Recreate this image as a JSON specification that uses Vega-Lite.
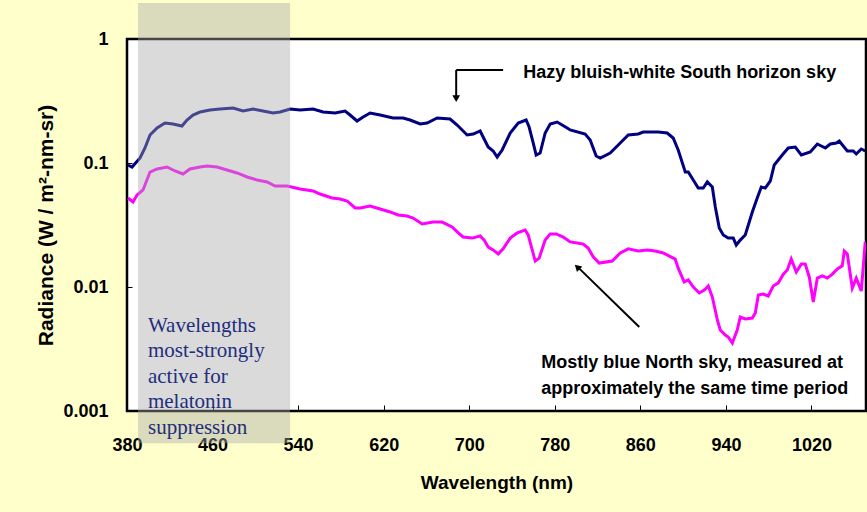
{
  "$schema": "https://vega.github.io/schema/vega-lite/v6.json",
  "width": 739,
  "height": 372,
  "autosize": {"type": "none"},
  "padding": {"left": 127, "top": 39, "right": 1, "bottom": 101},
  "background": "#FFFFCC",
  "config": {
    "view": {"fill": "white", "stroke": "black", "strokeWidth": 2.5},
    "axis": {
      "grid": false,
      "domain": false,
      "tickColor": "black",
      "tickWidth": 1,
      "labelFont": "Liberation Sans",
      "labelFontWeight": "bold",
      "labelFontSize": 18,
      "labelColor": "black",
      "titleFont": "Liberation Sans",
      "titleFontWeight": "bold",
      "titleFontSize": 19,
      "titleColor": "black",
      "labelOverlap": false,
      "labelFlush": false
    }
  },
  "datasets": {
    "spec": [
      {"wl": 380.9, "rad": 0.0964, "sky": "South"},
      {"wl": 384.7, "rad": 0.0928, "sky": "South"},
      {"wl": 392.2, "rad": 0.1097, "sky": "South"},
      {"wl": 396.8, "rad": 0.1321, "sky": "South"},
      {"wl": 401.5, "rad": 0.1682, "sky": "South"},
      {"wl": 408.1, "rad": 0.1915, "sky": "South"},
      {"wl": 415.5, "rad": 0.2102, "sky": "South"},
      {"wl": 423.0, "rad": 0.2063, "sky": "South"},
      {"wl": 431.4, "rad": 0.1988, "sky": "South"},
      {"wl": 436.1, "rad": 0.2222, "sky": "South"},
      {"wl": 441.7, "rad": 0.2438, "sky": "South"},
      {"wl": 448.3, "rad": 0.2577, "sky": "South"},
      {"wl": 457.6, "rad": 0.2675, "sky": "South"},
      {"wl": 467.0, "rad": 0.2725, "sky": "South"},
      {"wl": 479.2, "rad": 0.2776, "sky": "South"},
      {"wl": 488.5, "rad": 0.2626, "sky": "South"},
      {"wl": 497.9, "rad": 0.2725, "sky": "South"},
      {"wl": 507.2, "rad": 0.2626, "sky": "South"},
      {"wl": 516.6, "rad": 0.2530, "sky": "South"},
      {"wl": 523.1, "rad": 0.2577, "sky": "South"},
      {"wl": 532.5, "rad": 0.2725, "sky": "South"},
      {"wl": 541.9, "rad": 0.2675, "sky": "South"},
      {"wl": 554.0, "rad": 0.2725, "sky": "South"},
      {"wl": 563.3, "rad": 0.2577, "sky": "South"},
      {"wl": 574.6, "rad": 0.2530, "sky": "South"},
      {"wl": 583.9, "rad": 0.2626, "sky": "South"},
      {"wl": 588.6, "rad": 0.2438, "sky": "South"},
      {"wl": 595.1, "rad": 0.2181, "sky": "South"},
      {"wl": 600.8, "rad": 0.2349, "sky": "South"},
      {"wl": 607.3, "rad": 0.2530, "sky": "South"},
      {"wl": 616.7, "rad": 0.2438, "sky": "South"},
      {"wl": 628.8, "rad": 0.2306, "sky": "South"},
      {"wl": 638.2, "rad": 0.2306, "sky": "South"},
      {"wl": 644.7, "rad": 0.2222, "sky": "South"},
      {"wl": 654.1, "rad": 0.2063, "sky": "South"},
      {"wl": 660.6, "rad": 0.2102, "sky": "South"},
      {"wl": 670.0, "rad": 0.2306, "sky": "South"},
      {"wl": 682.1, "rad": 0.2264, "sky": "South"},
      {"wl": 688.7, "rad": 0.2025, "sky": "South"},
      {"wl": 698.0, "rad": 0.1682, "sky": "South"},
      {"wl": 703.7, "rad": 0.1713, "sky": "South"},
      {"wl": 710.2, "rad": 0.1812, "sky": "South"},
      {"wl": 713.0, "rad": 0.1621, "sky": "South"},
      {"wl": 717.7, "rad": 0.1346, "sky": "South"},
      {"wl": 722.4, "rad": 0.1250, "sky": "South"},
      {"wl": 726.1, "rad": 0.1118, "sky": "South"},
      {"wl": 730.8, "rad": 0.1273, "sky": "South"},
      {"wl": 738.3, "rad": 0.1746, "sky": "South"},
      {"wl": 745.8, "rad": 0.2102, "sky": "South"},
      {"wl": 753.2, "rad": 0.2222, "sky": "South"},
      {"wl": 756.0, "rad": 0.1951, "sky": "South"},
      {"wl": 759.8, "rad": 0.1450, "sky": "South"},
      {"wl": 762.6, "rad": 0.1160, "sky": "South"},
      {"wl": 766.3, "rad": 0.1204, "sky": "South"},
      {"wl": 771.0, "rad": 0.1746, "sky": "South"},
      {"wl": 775.7, "rad": 0.2063, "sky": "South"},
      {"wl": 782.2, "rad": 0.2141, "sky": "South"},
      {"wl": 791.6, "rad": 0.1915, "sky": "South"},
      {"wl": 794.4, "rad": 0.1846, "sky": "South"},
      {"wl": 808.4, "rad": 0.1713, "sky": "South"},
      {"wl": 813.1, "rad": 0.1533, "sky": "South"},
      {"wl": 818.7, "rad": 0.1139, "sky": "South"},
      {"wl": 822.5, "rad": 0.1097, "sky": "South"},
      {"wl": 831.8, "rad": 0.1204, "sky": "South"},
      {"wl": 841.2, "rad": 0.1450, "sky": "South"},
      {"wl": 848.7, "rad": 0.1682, "sky": "South"},
      {"wl": 858.0, "rad": 0.1713, "sky": "South"},
      {"wl": 862.7, "rad": 0.1778, "sky": "South"},
      {"wl": 869.3, "rad": 0.1778, "sky": "South"},
      {"wl": 876.7, "rad": 0.1778, "sky": "South"},
      {"wl": 885.1, "rad": 0.1746, "sky": "South"},
      {"wl": 890.7, "rad": 0.1591, "sky": "South"},
      {"wl": 895.4, "rad": 0.1273, "sky": "South"},
      {"wl": 902.0, "rad": 0.0846, "sky": "South"},
      {"wl": 904.8, "rad": 0.0846, "sky": "South"},
      {"wl": 909.5, "rad": 0.0730, "sky": "South"},
      {"wl": 914.1, "rad": 0.0628, "sky": "South"},
      {"wl": 918.8, "rad": 0.0628, "sky": "South"},
      {"wl": 922.6, "rad": 0.0703, "sky": "South"},
      {"wl": 927.3, "rad": 0.0640, "sky": "South"},
      {"wl": 930.1, "rad": 0.0442, "sky": "South"},
      {"wl": 933.8, "rad": 0.0299, "sky": "South"},
      {"wl": 937.5, "rad": 0.0263, "sky": "South"},
      {"wl": 942.2, "rad": 0.0248, "sky": "South"},
      {"wl": 946.9, "rad": 0.0248, "sky": "South"},
      {"wl": 949.7, "rad": 0.0218, "sky": "South"},
      {"wl": 953.4, "rad": 0.0239, "sky": "South"},
      {"wl": 958.1, "rad": 0.0263, "sky": "South"},
      {"wl": 964.7, "rad": 0.0403, "sky": "South"},
      {"wl": 969.3, "rad": 0.0522, "sky": "South"},
      {"wl": 973.1, "rad": 0.0640, "sky": "South"},
      {"wl": 976.8, "rad": 0.0628, "sky": "South"},
      {"wl": 981.5, "rad": 0.0716, "sky": "South"},
      {"wl": 985.2, "rad": 0.0964, "sky": "South"},
      {"wl": 992.7, "rad": 0.1160, "sky": "South"},
      {"wl": 998.3, "rad": 0.1321, "sky": "South"},
      {"wl": 1004.9, "rad": 0.1346, "sky": "South"},
      {"wl": 1010.5, "rad": 0.1160, "sky": "South"},
      {"wl": 1018.9, "rad": 0.1227, "sky": "South"},
      {"wl": 1025.5, "rad": 0.1423, "sky": "South"},
      {"wl": 1033.0, "rad": 0.1321, "sky": "South"},
      {"wl": 1037.6, "rad": 0.1423, "sky": "South"},
      {"wl": 1043.3, "rad": 0.1450, "sky": "South"},
      {"wl": 1046.0, "rad": 0.1505, "sky": "South"},
      {"wl": 1053.5, "rad": 0.1250, "sky": "South"},
      {"wl": 1059.1, "rad": 0.1250, "sky": "South"},
      {"wl": 1061.9, "rad": 0.1182, "sky": "South"},
      {"wl": 1066.6, "rad": 0.1297, "sky": "South"},
      {"wl": 1070.3, "rad": 0.1250, "sky": "South"},
      {"wl": 380.9, "rad": 0.0522, "sky": "North"},
      {"wl": 385.6, "rad": 0.0485, "sky": "North"},
      {"wl": 389.4, "rad": 0.0552, "sky": "North"},
      {"wl": 395.0, "rad": 0.0606, "sky": "North"},
      {"wl": 401.5, "rad": 0.0846, "sky": "North"},
      {"wl": 408.1, "rad": 0.0895, "sky": "North"},
      {"wl": 417.4, "rad": 0.0928, "sky": "North"},
      {"wl": 424.9, "rad": 0.0862, "sky": "North"},
      {"wl": 432.4, "rad": 0.0815, "sky": "North"},
      {"wl": 438.9, "rad": 0.0895, "sky": "North"},
      {"wl": 448.3, "rad": 0.0928, "sky": "North"},
      {"wl": 454.8, "rad": 0.0946, "sky": "North"},
      {"wl": 464.2, "rad": 0.0928, "sky": "North"},
      {"wl": 473.5, "rad": 0.0878, "sky": "North"},
      {"wl": 482.9, "rad": 0.0831, "sky": "North"},
      {"wl": 492.3, "rad": 0.0771, "sky": "North"},
      {"wl": 501.6, "rad": 0.0730, "sky": "North"},
      {"wl": 511.0, "rad": 0.0703, "sky": "North"},
      {"wl": 518.4, "rad": 0.0652, "sky": "North"},
      {"wl": 529.7, "rad": 0.0652, "sky": "North"},
      {"wl": 541.9, "rad": 0.0617, "sky": "North"},
      {"wl": 554.0, "rad": 0.0595, "sky": "North"},
      {"wl": 560.5, "rad": 0.0562, "sky": "North"},
      {"wl": 571.8, "rad": 0.0522, "sky": "North"},
      {"wl": 579.3, "rad": 0.0513, "sky": "North"},
      {"wl": 585.8, "rad": 0.0494, "sky": "North"},
      {"wl": 593.3, "rad": 0.0434, "sky": "North"},
      {"wl": 598.0, "rad": 0.0434, "sky": "North"},
      {"wl": 607.3, "rad": 0.0450, "sky": "North"},
      {"wl": 616.7, "rad": 0.0426, "sky": "North"},
      {"wl": 626.0, "rad": 0.0403, "sky": "North"},
      {"wl": 633.5, "rad": 0.0381, "sky": "North"},
      {"wl": 641.9, "rad": 0.0374, "sky": "North"},
      {"wl": 647.5, "rad": 0.0360, "sky": "North"},
      {"wl": 656.0, "rad": 0.0322, "sky": "North"},
      {"wl": 666.2, "rad": 0.0334, "sky": "North"},
      {"wl": 674.7, "rad": 0.0334, "sky": "North"},
      {"wl": 684.0, "rad": 0.0305, "sky": "North"},
      {"wl": 688.7, "rad": 0.0278, "sky": "North"},
      {"wl": 694.3, "rad": 0.0253, "sky": "North"},
      {"wl": 702.7, "rad": 0.0248, "sky": "North"},
      {"wl": 710.2, "rad": 0.0258, "sky": "North"},
      {"wl": 714.0, "rad": 0.0239, "sky": "North"},
      {"wl": 717.7, "rad": 0.0210, "sky": "North"},
      {"wl": 722.4, "rad": 0.0199, "sky": "North"},
      {"wl": 727.1, "rad": 0.0185, "sky": "North"},
      {"wl": 731.7, "rad": 0.0203, "sky": "North"},
      {"wl": 738.3, "rad": 0.0248, "sky": "North"},
      {"wl": 744.9, "rad": 0.0273, "sky": "North"},
      {"wl": 752.3, "rad": 0.0288, "sky": "North"},
      {"wl": 755.1, "rad": 0.0263, "sky": "North"},
      {"wl": 758.9, "rad": 0.0199, "sky": "North"},
      {"wl": 761.7, "rad": 0.0162, "sky": "North"},
      {"wl": 765.4, "rad": 0.0171, "sky": "North"},
      {"wl": 771.0, "rad": 0.0239, "sky": "North"},
      {"wl": 775.7, "rad": 0.0268, "sky": "North"},
      {"wl": 781.3, "rad": 0.0268, "sky": "North"},
      {"wl": 787.9, "rad": 0.0253, "sky": "North"},
      {"wl": 794.4, "rad": 0.0231, "sky": "North"},
      {"wl": 801.0, "rad": 0.0226, "sky": "North"},
      {"wl": 806.6, "rad": 0.0222, "sky": "North"},
      {"wl": 811.2, "rad": 0.0206, "sky": "North"},
      {"wl": 815.9, "rad": 0.0175, "sky": "North"},
      {"wl": 821.5, "rad": 0.0156, "sky": "North"},
      {"wl": 833.7, "rad": 0.0162, "sky": "North"},
      {"wl": 841.2, "rad": 0.0188, "sky": "North"},
      {"wl": 848.7, "rad": 0.0203, "sky": "North"},
      {"wl": 858.0, "rad": 0.0195, "sky": "North"},
      {"wl": 866.4, "rad": 0.0199, "sky": "North"},
      {"wl": 873.9, "rad": 0.0195, "sky": "North"},
      {"wl": 881.4, "rad": 0.0188, "sky": "North"},
      {"wl": 892.6, "rad": 0.0168, "sky": "North"},
      {"wl": 895.4, "rad": 0.0142, "sky": "North"},
      {"wl": 901.0, "rad": 0.0110, "sky": "North"},
      {"wl": 904.8, "rad": 0.0114, "sky": "North"},
      {"wl": 909.5, "rad": 0.0100, "sky": "North"},
      {"wl": 915.1, "rad": 0.00895, "sky": "North"},
      {"wl": 919.8, "rad": 0.00946, "sky": "North"},
      {"wl": 923.5, "rad": 0.0102, "sky": "North"},
      {"wl": 927.3, "rad": 0.00831, "sky": "North"},
      {"wl": 932.0, "rad": 0.00542, "sky": "North"},
      {"wl": 934.7, "rad": 0.00450, "sky": "North"},
      {"wl": 939.4, "rad": 0.00410, "sky": "North"},
      {"wl": 942.2, "rad": 0.00395, "sky": "North"},
      {"wl": 946.0, "rad": 0.00354, "sky": "North"},
      {"wl": 950.6, "rad": 0.00450, "sky": "North"},
      {"wl": 953.4, "rad": 0.00573, "sky": "North"},
      {"wl": 958.1, "rad": 0.00552, "sky": "North"},
      {"wl": 964.7, "rad": 0.00562, "sky": "North"},
      {"wl": 967.5, "rad": 0.00617, "sky": "North"},
      {"wl": 970.3, "rad": 0.00862, "sky": "North"},
      {"wl": 974.9, "rad": 0.00878, "sky": "North"},
      {"wl": 979.6, "rad": 0.00846, "sky": "North"},
      {"wl": 984.3, "rad": 0.0102, "sky": "North"},
      {"wl": 989.0, "rad": 0.0108, "sky": "North"},
      {"wl": 993.7, "rad": 0.0127, "sky": "North"},
      {"wl": 997.4, "rad": 0.0137, "sky": "North"},
      {"wl": 1001.1, "rad": 0.0168, "sky": "North"},
      {"wl": 1005.8, "rad": 0.0132, "sky": "North"},
      {"wl": 1010.5, "rad": 0.0153, "sky": "North"},
      {"wl": 1014.2, "rad": 0.0153, "sky": "North"},
      {"wl": 1018.0, "rad": 0.0120, "sky": "North"},
      {"wl": 1021.7, "rad": 0.00757, "sky": "North"},
      {"wl": 1025.5, "rad": 0.0118, "sky": "North"},
      {"wl": 1030.2, "rad": 0.0123, "sky": "North"},
      {"wl": 1034.8, "rad": 0.0118, "sky": "North"},
      {"wl": 1039.5, "rad": 0.0127, "sky": "North"},
      {"wl": 1044.2, "rad": 0.0140, "sky": "North"},
      {"wl": 1048.8, "rad": 0.0148, "sky": "North"},
      {"wl": 1050.7, "rad": 0.0195, "sky": "North"},
      {"wl": 1053.5, "rad": 0.0185, "sky": "North"},
      {"wl": 1058.2, "rad": 0.00982, "sky": "North"},
      {"wl": 1061.9, "rad": 0.0118, "sky": "North"},
      {"wl": 1066.6, "rad": 0.00928, "sky": "North"},
      {"wl": 1070.3, "rad": 0.0231, "sky": "North"}
    ],
    "band": [{"x1": 390.3, "x2": 532.5, "y1": 0.00055, "y2": 1.95}],
    "bandText": [{"x": 399.6, "y": 0.004336, "t": "Wavelengths\nmost-strongly\nactive for\nmelatonin\nsuppression"}],
    "notes": [
      {"x": 750.4, "y": 0.4892, "t": "Hazy bluish-white South horizon sky"},
      {"x": 767.3, "y": 0.002222, "t": "Mostly blue North sky, measured at\napproximately the same time period"}
    ],
    "arrows": [
      {"x1": 687.8, "x2": 731.7, "y1": 0.562, "y2": 0.562},
      {"x1": 687.8, "x2": 687.8, "y1": 0.562, "y2": 0.345},
      {"x1": 859.0, "x2": 802.5, "y1": 0.004757, "y2": 0.0142}
    ],
    "heads": [
      {"x": 687.8, "y": 0.330, "shape": "triangle-down", "angle": 0},
      {"x": 801.0, "y": 0.0145, "shape": "triangle-up", "angle": -46}
    ]
  },
  "layer": [
    {
      "data": {"name": "spec"},
      "mark": {"type": "line", "strokeWidth": 3, "clip": true},
      "encoding": {
        "x": {
          "field": "wl", "type": "quantitative",
          "scale": {"domain": [380, 1071], "nice": false, "zero": false},
          "axis": {
            "values": [380, 460, 540, 620, 700, 780, 860, 940, 1020],
            "format": "d",
            "tickSize": -6,
            "labelPadding": 31,
            "title": "Wavelength (nm)",
            "titlePadding": 19
          }
        },
        "y": {
          "field": "rad", "type": "quantitative",
          "scale": {"type": "log", "domain": [0.001, 1], "nice": false},
          "axis": {
            "values": [0.001, 0.01, 0.1, 1],
            "format": ".3~f",
            "tickSize": -5,
            "labelPadding": 24,
            "title": "Radiance (W / m²-nm-sr)",
            "titleFontSize": 21,
            "titlePadding": 6
          }
        },
        "color": {
          "field": "sky", "type": "nominal",
          "scale": {"domain": ["South", "North"], "range": ["#000080", "#FF00FF"]},
          "legend": null
        },
        "detail": {"field": "sky"}
      }
    },
    {
      "data": {"name": "band"},
      "mark": {"type": "rect", "fill": "#A8A8A8", "opacity": 0.42, "clip": false},
      "encoding": {
        "x": {"field": "x1", "type": "quantitative", "scale": {"domain": [380, 1071], "nice": false, "zero": false}},
        "x2": {"field": "x2"},
        "y": {"field": "y1", "type": "quantitative", "scale": {"type": "log", "domain": [0.001, 1], "nice": false}},
        "y2": {"field": "y2"}
      }
    },
    {
      "data": {"name": "bandText"},
      "mark": {"type": "text", "font": "Liberation Serif", "fontSize": 21, "color": "#1F2E7E", "align": "left", "baseline": "alphabetic", "lineBreak": "\n", "lineHeight": 25.4, "clip": false},
      "encoding": {
        "x": {"field": "x", "type": "quantitative"},
        "y": {"field": "y", "type": "quantitative"},
        "text": {"field": "t"}
      }
    },
    {
      "data": {"name": "notes"},
      "mark": {"type": "text", "font": "Liberation Sans", "fontWeight": "bold", "fontSize": 18, "color": "black", "align": "left", "baseline": "alphabetic", "lineBreak": "\n", "lineHeight": 25.5},
      "encoding": {
        "x": {"field": "x", "type": "quantitative"},
        "y": {"field": "y", "type": "quantitative"},
        "text": {"field": "t"}
      }
    },
    {
      "data": {"name": "arrows"},
      "mark": {"type": "rule", "color": "black", "strokeWidth": 2},
      "encoding": {
        "x": {"field": "x1", "type": "quantitative"},
        "x2": {"field": "x2"},
        "y": {"field": "y1", "type": "quantitative"},
        "y2": {"field": "y2"}
      }
    },
    {
      "data": {"name": "heads"},
      "mark": {"type": "point", "filled": true, "color": "black", "size": 60, "opacity": 1},
      "encoding": {
        "x": {"field": "x", "type": "quantitative"},
        "y": {"field": "y", "type": "quantitative"},
        "shape": {"field": "shape", "type": "nominal", "scale": null},
        "angle": {"field": "angle", "type": "quantitative", "scale": null}
      }
    }
  ]
}
